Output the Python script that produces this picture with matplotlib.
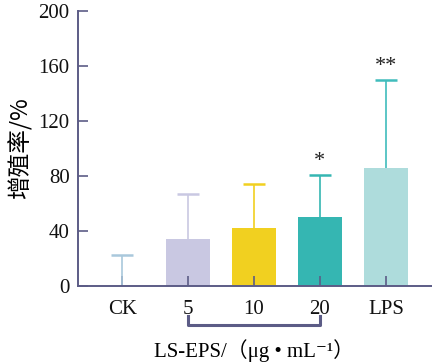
import matplotlib.pyplot as plt
import numpy as np

plt.rcParams['font.family'] = ['Liberation Serif', 'Noto Sans CJK SC', 'DejaVu Serif']

groups = ['CK', '5', '10', '20', 'LPS']
means = [0, 34, 42, 50, 85.5]
sd = [22.5, 33, 32, 31, 64.5]
stars = ['', '', '', '*', '**']
bar_colors = ['#ffffff', '#c9c8e2', '#f1d020', '#35b6b2', '#aedcdc']
err_colors = ['#a9c8dc', '#c9c8e2', '#f1d020', '#35b6b2', '#40bcbc']
axis_col = '#5c5c86'

fig = plt.figure(figsize=(4.32, 3.63), dpi=100)
ax = fig.add_axes([0.1806, 0.2121, 0.8194, 0.7576])

x = np.arange(len(groups))
ax.bar(x, means, width=0.67, color=bar_colors, zorder=1)
for i in range(len(groups)):
    top = means[i] + sd[i]
    ax.vlines(x[i], means[i], top, color=err_colors[i], lw=1.2, zorder=2)
    ax.hlines(top, x[i] - 0.17, x[i] + 0.17, color=err_colors[i], lw=1.8, zorder=2)
    if stars[i]:
        ax.text(x[i], top + 3, stars[i], ha='center', va='bottom',
                fontsize=16, color='#222222')

ax.set_xlim(-0.67, 4.7)
ax.set_ylim(0, 200)
ax.set_yticks([0, 40, 80, 120, 160, 200])
ax.set_xticks(x)
ax.set_xticklabels(groups)
ax.tick_params(axis='both', direction='in', colors=axis_col, labelcolor='#111111',
               labelsize=15, length=7, width=1.2)
ax.tick_params(axis='x', pad=10)
ax.tick_params(axis='y', pad=6)
for s in ['top', 'right']:
    ax.spines[s].set_visible(False)
for s in ['left', 'bottom']:
    ax.spines[s].set_color(axis_col)
    ax.spines[s].set_linewidth(1.4)

ax.set_ylabel('增殖率/%', fontsize=17, family=['Noto Sans CJK SC', 'DejaVu Sans'], labelpad=4)

# bracket under the LS-EPS doses
ax.plot([1, 1, 3, 3], [-22, -28.5, -28.5, -22], color=axis_col, lw=2.2, clip_on=False)
ax.text(2, -47, 'LS-EPS/（μg • mL⁻¹）', ha='center', va='center', fontsize=15)

fig.savefig('out.png', dpi=100)
